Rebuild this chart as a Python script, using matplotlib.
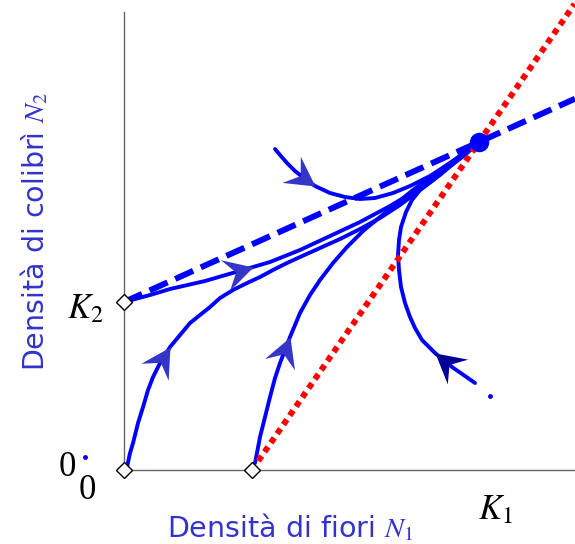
import numpy as np
import matplotlib
matplotlib.use('Agg')
import matplotlib.pyplot as plt
from matplotlib.markers import MarkerStyle
from matplotlib.path import Path
from matplotlib.transforms import Affine2D

plt.rcParams['mathtext.fontset'] = 'stix'
plt.rcParams['font.family'] = ['DejaVu Sans']

# --- dati (densita' in unita' arbitrarie) ---
K1 = 3.55
K2 = 1.68
N1_min = 1.28                 # intercetta isoclina di N1
eq = (3.55, 3.28)             # equilibrio stabile

# isocline
iso2_x = [0.0, 4.51]
iso2_y = [K2, K2 + (eq[1] - K2) / eq[0] * 4.51]
iso1_x = [N1_min, N1_min + 4.66 * (eq[0] - N1_min) / eq[1]]
iso1_y = [0.0, 4.66]

# traiettorie (N1, N2)
traj_k2 = [(0.00, 1.68), (0.26, 1.75), (0.46, 1.81), (0.81, 1.89), (1.05, 1.96),
           (1.29, 2.03), (1.46, 2.08), (1.76, 2.20), (2.06, 2.34), (2.36, 2.48),
           (2.66, 2.64), (2.96, 2.82), (3.21, 3.00), (3.41, 3.15), (3.55, 3.28)]
traj_orig = [(0.03, 0.03), (0.06, 0.17), (0.09, 0.27), (0.14, 0.47), (0.19, 0.63),
             (0.24, 0.80), (0.29, 0.93), (0.36, 1.07), (0.46, 1.23), (0.56, 1.35),
             (0.66, 1.47), (0.76, 1.55), (0.86, 1.63), (0.96, 1.72), (1.09, 1.80),
             (1.23, 1.87), (1.36, 1.93), (1.49, 2.00), (1.63, 2.07), (1.76, 2.13),
             (1.96, 2.22), (2.16, 2.31), (2.36, 2.41), (2.56, 2.52), (2.76, 2.65),
             (2.96, 2.80), (3.16, 2.95), (3.36, 3.12), (3.55, 3.28)]
traj_n1 = [(1.31, 0.07), (1.36, 0.33), (1.41, 0.53), (1.46, 0.73), (1.51, 0.92),
           (1.56, 1.07), (1.66, 1.33), (1.76, 1.57), (1.86, 1.75), (1.96, 1.90),
           (2.09, 2.07), (2.23, 2.23), (2.39, 2.39), (2.56, 2.53), (2.73, 2.67),
           (2.89, 2.80), (3.16, 3.00), (3.36, 3.14), (3.55, 3.28)]
traj_top = [(1.51, 3.21), (1.56, 3.15), (1.63, 3.07), (1.71, 2.99), (1.81, 2.91),
            (1.91, 2.84), (2.06, 2.77), (2.21, 2.73), (2.36, 2.71), (2.51, 2.72),
            (2.69, 2.77), (2.86, 2.84), (3.06, 2.94), (3.26, 3.07), (3.43, 3.19),
            (3.55, 3.28)]
traj_right = [(3.51, 0.87), (3.41, 0.94), (3.28, 1.03), (3.11, 1.17), (2.98, 1.30),
              (2.91, 1.42), (2.86, 1.53), (2.81, 1.67), (2.77, 1.83), (2.75, 2.00),
              (2.74, 2.15), (2.75, 2.30), (2.77, 2.43), (2.82, 2.58), (2.88, 2.70),
              (2.96, 2.80), (3.09, 2.90), (3.24, 3.04), (3.41, 3.17), (3.55, 3.28)]

# (traiettoria, indice punta freccia, colore)
arrows = [(traj_k2, 5, '#3535c8'), (traj_orig, 8, '#3535c8'), (traj_n1, 6, '#3535c8'),
          (traj_top, 5, '#3535c8'), (traj_right, 3, '#000099')]

start_pts_x = [0.0, 0.0, N1_min]
start_pts_y = [K2, 0.0, 0.0]

blu = '#0000ff'
testo_blu = '#3333cc'

fig = plt.figure(figsize=(5.75, 5.44), dpi=100)
ax = fig.add_axes([0.2157, 0.136, 0.7843, 0.864])
ax.set_xlim(0, 4.51)
ax.set_ylim(0, 4.70)

for sp in ['top', 'right']:
    ax.spines[sp].set_visible(False)
for sp in ['left', 'bottom']:
    ax.spines[sp].set_color('#666666')
    ax.spines[sp].set_linewidth(1.0)
ax.spines['left'].set_bounds(0, 4.58)
ax.set_xticks([])
ax.set_yticks([])

for tr in [traj_k2, traj_orig, traj_n1, traj_top, traj_right]:
    t = np.array(tr)
    ax.plot(t[:, 0], t[:, 1], color=blu, lw=2.8, solid_capstyle='round',
            solid_joinstyle='round', zorder=3)

ax.plot(iso2_x, iso2_y, color=blu, lw=4.3, dashes=(3.3, 1.4), dash_capstyle='butt', zorder=4)
ax.plot(iso1_x, iso1_y, color='#ff0000', lw=4.3, dashes=(1, 0.85), dash_capstyle='butt',
        clip_on=False, zorder=5)

head = Path([(0, 0), (-1, 0.55), (-0.62, 0), (-1, -0.55), (0, 0)],
            [Path.MOVETO, Path.LINETO, Path.LINETO, Path.LINETO, Path.CLOSEPOLY])
for tr, k, c in arrows:
    (x0, y0), (x1, y1) = tr[k - 1], tr[k]
    ang = np.degrees(np.arctan2(y1 - y0, x1 - x0))
    m = MarkerStyle(head, transform=Affine2D().rotate_deg(ang))
    ax.plot([x1], [y1], marker=m, ms=42, color=c, mec=c, mew=0, zorder=6)

ax.plot([eq[0]], [eq[1]], 'o', color=blu, ms=13, zorder=7, clip_on=False)
ax.plot(start_pts_x, start_pts_y, 'D', ms=8.5, mfc='white', mec='black', mew=1.0,
        zorder=8, clip_on=False)

# piccoli punti sparsi
ax.plot([-0.39, 3.66], [0.13, 0.74], 'o', color=blu, ms=2.5, clip_on=False, zorder=3)

ax.text(-0.39, 1.62, '$K_2$', fontsize=25, ha='center', va='center')
ax.text(3.71, -0.39, '$K_1$', fontsize=25, ha='center', va='center')
ax.text(-0.57, 0.03, '0', fontsize=25, family='Liberation Serif', ha='center', va='center')
ax.text(-0.37, -0.20, '0', fontsize=25, family='Liberation Serif', ha='center', va='center')

fig.text(0.504, 0.031, 'Densità di fiori $N_1$', fontsize=20.5, color=testo_blu,
         ha='center', va='center')
fig.text(0.061, 0.574, 'Densità di colibrì $N_2$', fontsize=20.5, color=testo_blu,
         ha='center', va='center', rotation=90)

fig.savefig('out.png', dpi=100)
